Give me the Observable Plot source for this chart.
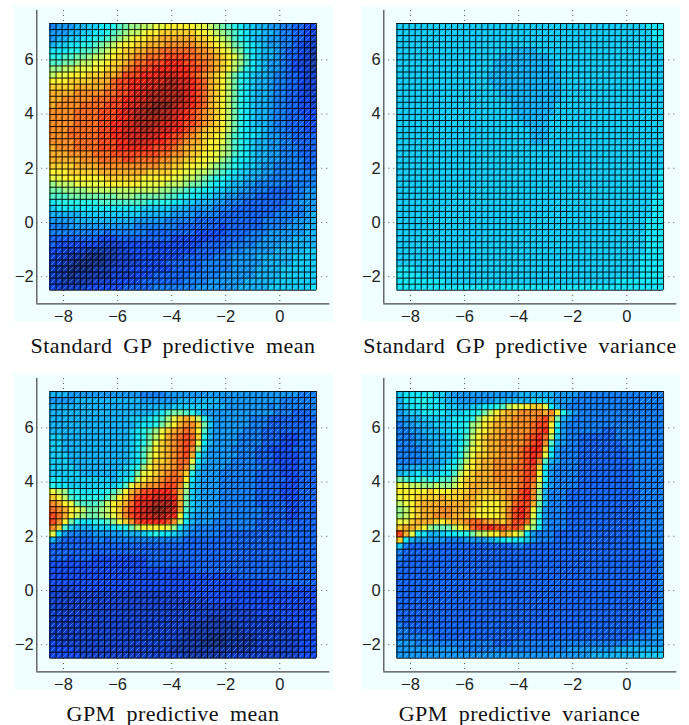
<!DOCTYPE html>
<html><head><meta charset="utf-8">
<script src="https://cdn.jsdelivr.net/npm/d3@7"></script>
<script src="https://cdn.jsdelivr.net/npm/@observablehq/plot@0.6"></script>
<style>
html,body{margin:0;padding:0;background:#fff}
#stage{position:relative;width:689px;height:725px;overflow:hidden}
#stage svg{position:absolute;overflow:visible;background:#f0ffff}
.cap{position:absolute;font-family:"Liberation Serif",serif;font-size:22px;line-height:20px;white-space:nowrap;color:#111;transform:translateX(-50%);word-spacing:5px;letter-spacing:.45px}
</style></head><body><div id="stage"></div>
<script>
const xTicks=[-8,-6,-4,-2,0];
const yTicks=[-2,0,2,4,6];
const captions=["Standard GP predictive mean","Standard GP predictive variance","GPM predictive mean","GPM predictive variance"];
// heat levels a (lowest) to z (highest), rows top to bottom
const gpMean=[
"fggghhiijjklmnnooppqqqqqpponmlkjiihhggffeedd",
"ggghhiijjklmnoopqqrrrrrrqqponmlkjiihhgffeedc",
"ghhiijjkklmnopqqrrssssssrrqponlkjihhggffeedc",
"hiijjkklmnopqqrrssstttttssrqpomlkjihggffedcc",
"jjjkkllmnopqrrssttuuuuuuttsrqpnmkjihhgfeedcb",
"kkllmmnoopqrrsttuuuvvvvuuttsrqpnljihhgfeedcb",
"llmmnooppqrrstuuvvvwwwvvuutsrqonljihggfedccb",
"nnoopppqqrrstuvvvwwwwwwvvutsrqomkjihggfeddcb",
"oppqqqrrrsstvvvwwwxxxwwvutsrqomkjihhgffeedcc",
"qqqrrrrsssuvvwwwxxxyyxxwvusrqomkjihhgffeedcc",
"rrrrssssstuvvwwxxxyyyxxwvusrqomkjihhgffeedcc",
"sssstttttuuvvwxxyyyyyyxwvusrqomkjihhgffeedcc",
"sstttttuuuvvwwxxyyyyyyxwvusrqomkjihhgffeeddc",
"sttttuuuuvvvwxxyyzzzyxxwvusrqomkjihhgffeeddc",
"ttttuuuuvvvwxxyyzzyyxxwvutsrqomkjihhgffeeddd",
"ttttuuuuvvvwwxyyyyyyxwwvutsrqomkjihhgffeeedd",
"ttttuuuuvvwwxxyyyyxxxwvvutsrqomkjihhgffeeedd",
"tttuuuuuvvwwxxxyyxxxwwvutsrrqomkjiihgffeeedd",
"tttuuuuuvvwwxxxxxxwwvvutsrrqpnlkjjihggffeeee",
"ttttuuuuvvvwwxxxxwwvvutssrqqpnlkjihhggffeeee",
"stttuuuuvvvwwwwwwvvvutssrrqqonlkjihhggfffeee",
"sssttttuuuvvvvvvvvuuttsrrqqponlkjihhggfffeee",
"ssssstttuuuuvvuuuuttssrrqqppnmkjjihhggffffee",
"rrrrssssttttttttttssrrqqpponmlkjiihggfffffee",
"qqqrrrrrssssssssrrrrqqppoonmlkjiihhggfffffff",
"ppqqqqqqqrrrrrrqqqqqppoonmlkkjiihhggffffffff",
"nooopppppqqqqqqppppooonmmlkjjihhggfffffeffff",
"mmnnnnoooooooooooonnmmlkkjjiihhggfffeeeeffgg",
"lllmmmmmmmmnnnmmmmmllkkjjiihhggfffeeeeeeffgg",
"jkkkkkkkllllllllkkkkjjiihhhggfffeeeeeeeffggg",
"ijjjjjjjjjjjjjjiiiiihhhggggfffeeeeeeeeffffgg",
"hhhhhiiiiiiiiiihhhhhggggffffeeeeeeeeefffffgh",
"gggghhhhhhhhhhgggggfffffeeeeeeeeeeefffffgggh",
"fffgggggggggggfffffffeeeeeeedeeeeeeffffggghh",
"fffffffffeffffffeeeeeeeedddddeeeefffgggggghh",
"eeeeeeeedddeeeeeeeeeddddddddeeeefffggggghhhh",
"edddddddccccdddddddddddddeeeeeffffgggghhhhhh",
"ddccccbbbbbccdddddddddddeeeeefffggggghhhhhii",
"dccbbbaaabbcccddddddddeeeeefffgggghhhhhhiiii",
"ccbbaaaaabbccccddddeeeeeefffffggggghhhhhiiii",
"cbbaaaabbbcccdddddddeeeeefffffgggghhhhiiiiii",
"cbbabbbbbbccccdddeeeeeefffffgggggghhhhiiiiii",
"ccbbbbbccccddddeeeeeeeffffgggggghhhhhiiiiiii",
"dcccccddddddeeeeefffffffggggggghhhhhiiiiiiij"
];
const gpVar=[
"iiiiiiiiiiiiiiiiiiiiiiiiiiiiiiiiiiiiiiiiijjj",
"iiiiiiiiiiiiiiiiiiiiiiiiiiiiiiiiiiiiiiiiiijj",
"iiiiiiiiiiiiiiiiiiiiiiiiiiiiiiiiiiiiiiiiiijj",
"iiiiiiiiiiiiiiiiiiiiiiiiiiiiiiiiiiiiiiiiiiij",
"iiiiiiiiiiiiiiiiiiihhhhiiiiiiiiiiiiiiiiiiiij",
"iiiiiiiiiiiiiiiiihhhhhhhhiiiiiiiiiiiiiiiiiii",
"iiiiiiiiiiiiiiiihhhhhhhhhhiiiiiiiiiiiiiiiiii",
"iiiiiiiiiiiiiiiihhhhhhhhhhiiiiiiiiiiiiiiiiii",
"iiiiiiiiiiiiiiihhhhhhhhhhhhiiiiiiiiiiiiiiiii",
"iiiiiiiiiiiiiiihhhhhhhhhhhhiiiiiiiiiiiiiiiii",
"iiiiiiiiiiiiiiiihhhhhhhhhhhiiiiiiiiiiiiiiiii",
"iiiiiiiiiiiiiiiiihhhhhhhhhhiiiiiiiiiiiiiiiii",
"iiiiiiiiiiiiiiiiiihhhhhhhhhiiiiiiiiiiiiiiiii",
"iiiiiiiiiiiiiiiiiiihhhhhhhiiiiiiiiiiiiiiiiii",
"iiiiiiiiiiiiiiiiiiihhhhhhhiiiiiiiiiiiiiiiiii",
"iiiiiiiiiiiiiiiiiiiihhhhhiiiiiiiiiiiiiiiiiii",
"iiiiiiiiiiiiiiiiiiiiihhhhiiiiiiiiiiiiiiiiiii",
"iiiiiiiiiiiiiiiiiiiiiihhhiiiiiiiiiiiiiiiiiii",
"iiiiiiiiiiiiiiiiiiiiiihhhiiiiiiiiiiiiiiiiiii",
"iiiiiiiiiiiiiiiiiiiiiihhhiiiiiiiiiiiiiiiiiii",
"iiiiiiiiiiiiiiiiiiiiiiiiiiiiiiiiiiiiiiiiiiii",
"iiiiiiiiiiiiiiiiiiiiiiiiiiiiiiiiiiiiiiiiiiii",
"iiiiiiiiiiiiiiiiiiiiiiiiiiiiiiiiiiiiiiiiiiii",
"iiiiiiiiiiiiiiiiiiiiiiiiiiiiiiiiiiiiiiiiiiii",
"iiiiiiiiiiiiiiiiiiiiiiiiiiiiiiiiiiiiiiiiiiij",
"iiiiiiiiiiiiiiiiiiiiiiiiiiiiiiiiiiiiiiiiiiij",
"iiiiiiiiiiiiiiiiiiiiiiiiiiiiiiiiiiiiiiiiiiij",
"iiiiiiiiiiiiiiiiiiiiiiiiiiiiiiiiiiiiiiiiiiij",
"iiiiiiiiiiiiiiiiiiiiiiiiiiiiiiiiiiiiiiiiiijj",
"iiiiiiiiiiiiiiiiiiiiiiiiiiiiiiiiiiiiiiiiiijj",
"iiiiiiiiiiiiiiiiiiiiiiiiiiiiiiiiiiiiiiiiiijj",
"iiiiiiiiiiiiiiiiiiiiiiiiiiiiiiiiiiiiiiiiiijj",
"iiiiiiiiiiiiiiiiiiiiiiiiiiiiiiiiiiiiiiiiijjj",
"iiiiiiiiiiiiiiiiiiiiiiiiiiiiiiiiiiiiiiiiijjj",
"iiiiiiiiiiiiiiiiiiiiiiiiiiiiiiiiiiiiiiiiijjj",
"iiiiiiiiiiiiiiiiiiiiiiiiiiiiiiiiiiiiiiiiijjj",
"iiiiiiiiiiiiiiiiiiiiiiiiiiiiiiiiiiiiiiiiijjj",
"iiiiiiiiiiiiiiiiiiiiiiiiiiiiiiiiiiiiiiiiijjj",
"iiiiiiiiiiiiiiiiiiiiiiiiiiiiiiiiiiiiiiiijjjj",
"iiiiiiiiiiiiiiiiiiiiiiiiiiiiiiiiiiiiiiiijjjj",
"jjjiiiiiiiiiiiiiiiiiiiiiiiiiiiiiiiiiiiiijjjj",
"jjjjiiiiiiiiiiiiiiiiiiiiiiiiiiiiiiiiiiiijjjj",
"jjjjjjjjiiiiiiiiiiiiiiiiiiiiiiiiiiiijjjjjjjj",
"jjjjjjjjjjjjjjjjjjjjjjjjjjjjjjjjjjjjjjjjjjjj"
];
const gpmMean=[
"hhhggggggggggggffffggggggggggggggggggggggfff",
"gggghhhhhhhhhhhgggggghhhhhhhggggggggggffffff",
"hhhhhhhhhhhhhhhhhhhhiiiiiihhhgggggggfgffffff",
"hhhhhhhhhhhhhhhhhijlmmlkiggggggggggggfffeeef",
"hhhhhhhhhhhhhiiijklnprsrokhggggggfffeeeeeeee",
"hhhhhhhhhhhhhhijjkmoqsttrmiggggggfffeeeeeeee",
"hhhhhhhhhhhhhijklnprstutqlhgggggfffeeeeeeeee",
"iihhhhhhhhhhhijkmoqstuvurkhggggffffeeedddeee",
"iihhhhhhhhhhhijkmprstuvupjhggggffffeeedddeee",
"iihhhhhhhhhhhijlnqrstuvtniggggffffeeddddeeee",
"iiihhhhhhhhhhijloqrstuvskhgggggfffeeeddddeee",
"iiihhhhhhhhhhijlorrstuupjhggggffffeeeddddeee",
"iiiihhhhhhhhijknqrsstutniggggffffffeeedddeee",
"iiiiihhhhhhiijmpqrstutrkhgggffffffeeeedddeee",
"jjiiiiiiiihijkoqrstuuuqjhgggffffffeeeeeddeee",
"kjjiiiiiiiijlprsttuvvtoihgggffffffeeeedddeee",
"ponkkjjjjklnqstvvwwwvsnihgggffffffeeeedddeee",
"rqolkkkkklnqrtvwwxxxwsmihgggffffffeeeedddeee",
"tsqpmlllmoqrsuwxxyyyxsmihgggffffffeeeeeddeee",
"utsqpommnoqrtvwxyzzyxslihgggfffffffeeeeddeee",
"vusqonmmnoprtvwxxyyxwqkhggggfffffffeeeeddeee",
"vtqmkjjkklnprtvwwwwvtojhgggfffffffeeeeedeeee",
"trlihhhiiijkkmoqqqqpnjhgfffffeffffeeeeeeeeee",
"pjgffffggggghhhijkjjihgfffffeeeeeeeeeeeeeeee",
"hfeeeeeffeffffffffffffeeeeeeeeeeeeeeeeeeeeee",
"eeeeeeeeeeeeeeeeeeeeeeeeeeeeeeeeeeeeeeeeeeee",
"eeeeeeeeeeeeeeeeeeeeeeeeeeeeeeeeeeeeeeeeeeee",
"eeedeeedddddddddeeeeeeeeeeeeeeeeeeeeeeeeeeee",
"ddddddddddddddddeeeeeeeeeeeeeeeeeeeeeeeeeeee",
"dddddddddddddddddddddddeeeeeeeeeeeeeeeeeeeee",
"dddddddddddddddddddddddddddddddeeeeeeeeeeeee",
"dddddddddddddddddddddddddddddddddddddeeeeeee",
"ccccdddddddddddddddddddddddddddddddddddddddd",
"cccccccccccccccccccccddddddddddddddddddddddd",
"ccccccccccccccccccccccccccdddddddddddddddddd",
"cccccccccccccccccccccccccccccccddddddddddddd",
"ccccccccccccccccccccccccccccccccccdddddddddd",
"ccccccccccccccccccccccccccbbbcccccccccdddddd",
"cccccccccccccccccccccccbbbbbbbbcccccccccdddd",
"ccccccccccccccccccccccbbbbbbbbbbcccccccccddd",
"ccccccccccccccccccccccbbbbaaabbbbbcccccccddd",
"dccccccccccccccccccccbbbbaaaabbbbbcccccccddd",
"ddddccccccccccccccccbbbbbbbbbbbbbccccccccddd",
"dddddcccccccccccccccccbbbbbbbccccccccccccddd"
];
const gpmVar=[
"ijjjjkiihggggggggggghhhhhhggggffffffffffffff",
"hjjkkjjihhgggggghhhhhhiiihgggfffffffffffffff",
"hijjkjjjiihhiijjkloppqrrpjhgffffffffffffffff",
"ghiijjjjiiijjkmoqrssttttstqkhgffffffffffffff",
"gghhiiiiijjjknpqrssttttuvsmhgfffffffffffffff",
"fgghhhiiijjknoqrssstttuvvqkgffffffffffffffff",
"ffgghhhiijjknpqrssttttuvwqjgffffffeeffffffff",
"fffgghhhiijloqrssttttuvwuoigffeeeeeeffffffff",
"fffggghhhijloqrssttttuvwtlhgffeeeeeeefffffff",
"ffffgghhhikmpqrsstttuvwwrjgfffeeeeeeeeffffff",
"ffffgghhhiknprrsstttuvwvpjgfffeeeeeeeeffffff",
"ffffggghijloqrssttttuvwtlhgfffeeeeeeeeefffff",
"gghhhhhijkmpqrsstttuuvvrjgffffeeeeeeeeefffff",
"hiijiiijjloqrsssttttuvvqjgffffeeeeeeeeefffff",
"mlkklkkllnprrsssttttuvupjgffffeeeeeeeeefffff",
"ppoonnonnoqrsssssttt".concat("uvtoigffffeeeeeeeeefffff"),
"qqqqqrqqqrrrssrrssttvwtnhfffeeeeeeeeeeeeffff",
"pqqrrrrsrrrssrrrrstuvwtnhfffeeeeeeeeeeeeffff",
"opqrssssssssrrqqqrsuvvsmhfffeeeeeeeeeeeeffff",
"noqrsssttsssrqqqqrtvwvqlgfffeeeeeeeeeeeeffff",
"noqrsstttssrrqqqqrtvwvpkgfffeeeeeeeeeeeeffff",
"pprsssrqrsstuutssrtvvuokgfffeeeeeeeeeeeeffff",
"rssrqnmmmoqruvvwvvuvupnjgfffeeeeeeeeeeeeffff",
"vspkjhhijjkkmooqqsrqojgfffeeeeeeeeeeeeeeffff",
"rjhgggggfffgggghijkjjigfffeeeeeeeeeeeeeeffff",
"ifeeeeeeeeeeeeeeeeeffeeeeeeeeeeeeeeeeeeeffff",
"feeeeeeeeeeeeeeeeeeeeeeeeeeeeeeeeeeeeeeeeeef",
"feeeeeeeeeeeeeeeeeeeeeeeeeeeeeeeeeeeeeeeeeef",
"eeeeeeeeeeeeeeeeeeeeeeeeeeeeeeeeeeeeeeeeeeef",
"eeeeeeeeeeeeeeeeeeeeeeeeeeeeeeeeeeeeeeeeeeef",
"eeeeeeeeeeeeeeeeeeeeeeeeeeeeeeeeeeeeeeeeeeef",
"eeeeeeeeeeeeeeeeeeeeeeeeeeeeeeeeeeeeeeeeeeef",
"eeeeeeeeeeeeeeeeeeeeeeeeeeeeeeeeeeeeeeeeeeef",
"eeeeeeeeeeeeeeeeeeeeeeeeeeeeeeeeeeeeeeeeeeef",
"eeeeeeeeeeeeeeeeeeeeeeeeeeeeeeeeeeeeeeeeeeef",
"eeeeeeeeeeeeeeeeeeeeeeeeeeeeeeeeeeeeeeeeeeff",
"eeeeeeeeeeeeeeeeeeeeeeeeeeeeeeeeeeeeeeeeeeff",
"eeeeeeeeeeeeeeeeeeeeeeeeeeeeeeeeeeeeeeeeeeff",
"feeeeeeeeeeeeeeeeeeeeeeeeeeeeeeeeeeeeeeeeeff",
"ffeeeeeeeeeeeeeeeeeeeeeeeeeeeeeeeeeeeeeeefgg",
"ffffffeeeeeeeeeeeeeeeeeeeeeeeeeeeeeeeeefffgg",
"gggfffffffffffffeeefffffffffffffffffffgggggg",
"ggggggggggffffffffffffffffffgggggggghhhhhhhh",
"gggggggggggggggggggggggggggggggghhhhhhhhiiii"
];
const panels=[gpMean,gpVar,gpmMean,gpmVar];
const offsets=[[14,6],[361,6],[14,374],[361,374]];
const capPos=[[173,335.6],[520,335.6],[173,703.6],[519.5,703.6]];

const xDom=[-8.988,1.85],yDom=[-3,7.82];
const heatX=[-8.5,1.36],heatY=[-2.5,7.34];
const N=44;
const dx=(heatX[1]-heatX[0])/N,dy=(heatY[1]-heatY[0])/N;
const xEdges=d3.range(N+1).map(i=>heatX[0]+i*dx);
const yEdges=d3.range(N+1).map(j=>heatY[0]+j*dy);
const stage=document.getElementById("stage");
const levelCode=ch=>ch.charCodeAt(0)-97;

panels.forEach((rows,p)=>{
  const cells=[];
  rows.forEach((row,j)=>{
    for(let i=0;i<N;i++){
      const ch=row[Math.min(i,row.length-1)];
      cells.push({x1:xEdges[i],x2:xEdges[i+1],y1:yEdges[N-j-1],y2:yEdges[N-j],v:levelCode(ch)});
    }
  });
  const svg=Plot.plot({
    width:319,height:315,marginLeft:22.3,marginRight:3.7,marginTop:4,marginBottom:17.7,
    style:{background:"#f0ffff",fontFamily:"'Liberation Sans',Arial,sans-serif",overflow:"visible"},
    x:{domain:xDom},y:{domain:yDom},
    color:{type:"linear",domain:[0,3.1,9.4,15.6,21.9,25],range:["#0a2a80","#0644f0","#04f0ff","#ffff28","#f42010","#7c1a10"]},
    marks:[
      Plot.ruleX(xTicks,{stroke:"#555",strokeWidth:1,strokeDasharray:"1,4"}),
      Plot.ruleY(yTicks,{stroke:"#555",strokeWidth:1,strokeDasharray:"1,4"}),
      Plot.rect(cells,{x1:"x1",x2:"x2",y1:"y1",y2:"y2",fill:"v",shapeRendering:"crispEdges"}),
      Plot.link(cells,{x1:"x1",x2:"x2",y1:"y1",y2:"y2",stroke:"#fff",strokeOpacity:.32,strokeWidth:1}),
      Plot.ruleX(xEdges,{y1:heatY[0],y2:heatY[1],stroke:"#000",strokeOpacity:.9,strokeWidth:1}),
      Plot.ruleY(yEdges,{x1:heatX[0],x2:heatX[1],stroke:"#000",strokeOpacity:.9,strokeWidth:1}),
      Plot.ruleX([xDom[0]],{stroke:"#444",strokeWidth:1.2}),
      Plot.ruleY([yDom[0]],{stroke:"#444",strokeWidth:1.2}),
      Plot.axisX({ticks:xTicks,tickSize:0,tickPadding:6,fontSize:16.5,anchor:"bottom",label:null,stroke:"none",fill:"#222"}),
      Plot.axisY({ticks:yTicks,tickSize:0,tickPadding:3,fontSize:16.5,anchor:"left",label:null,stroke:"none",fill:"#222"})
    ]
  });
  svg.style.left=offsets[p][0]+"px";
  svg.style.top=offsets[p][1]+"px";
  stage.appendChild(svg);
  const cap=document.createElement("div");
  cap.className="cap";
  cap.textContent=captions[p];
  cap.style.left=capPos[p][0]+"px";
  cap.style.top=capPos[p][1]+"px";
  stage.appendChild(cap);
});
</script></body></html>
